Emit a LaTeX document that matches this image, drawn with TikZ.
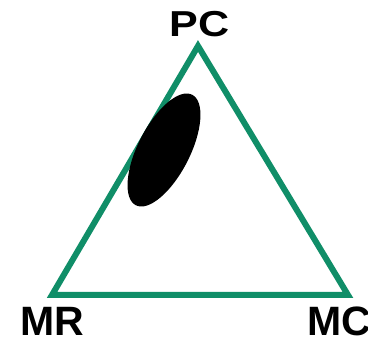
\documentclass[tikz,border=0pt]{standalone}
\usepackage{fontspec}
\setmainfont{Liberation Sans}
\definecolor{trigreen}{RGB}{16,142,104}
\begin{document}
\begin{tikzpicture}[x=1pt,y=1pt,
  lbl/.style={inner sep=0pt,font=\bfseries\fontsize{41}{41}\selectfont},
  edge/.style={draw=trigreen,line width=6pt,line join=miter}]
\useasboundingbox (0,0) rectangle (368,341);
\coordinate (A) at (198,295);
\coordinate (B) at (52,46);
\coordinate (C) at (348,46);
\draw[edge] (A) -- (B) -- (C) -- cycle;
\fill[black,rotate around={63:(164,191)}] (164,191) ellipse [x radius=62pt,y radius=26pt];
\node[lbl,anchor=base,xscale=1.05,yscale=0.88] (pc) at (199.5,304) {PC};
\node[lbl,anchor=base west] (mr) at (20,5) {MR};
\node[lbl,anchor=base west] (mc) at (307,5) {MC};
\end{tikzpicture}
\end{document}
